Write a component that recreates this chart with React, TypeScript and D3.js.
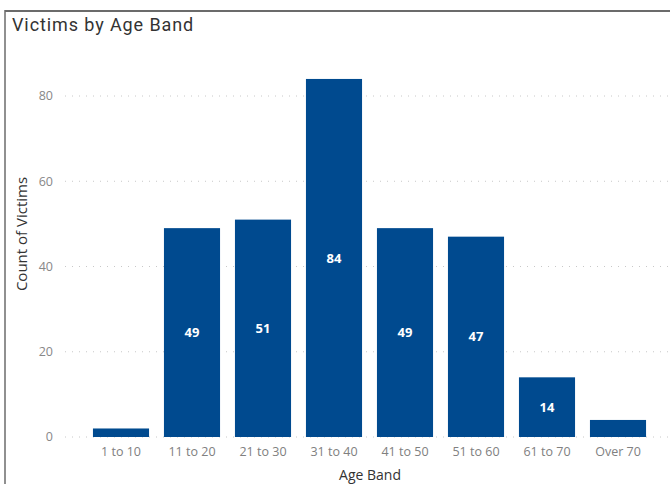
import React from "react";
import * as d3 from "d3";

const categories = ["1 to 10", "11 to 20", "21 to 30", "31 to 40", "41 to 50", "51 to 60", "61 to 70", "Over 70"];
const values = [2, 49, 51, 84, 49, 47, 14, 4];
const yTicks = [0, 20, 40, 60, 80];

export default function App() {
  const W = 670, H = 484;
  const x = d3.scaleBand<string>().domain(categories).range([85.5, 653.5]).paddingInner(0.21).paddingOuter(0.105);
  const y = d3.scaleLinear().domain([0, 80]).range([437, 96]);
  const font = "'Segoe UI', 'Open Sans', 'Noto Sans', sans-serif";
  return (
    <svg width={W} height={H} style={{ position: "absolute", left: 0, top: 0 }}>
      <rect x={0} y={0} width={W} height={H} fill="#fff" />
      <line x1={5} y1={11} x2={W} y2={11} stroke="#6b6b6b" strokeWidth={2} />
      <line x1={5} y1={10} x2={5} y2={H} stroke="#6b6b6b" strokeWidth={1.5} />
      <text x={12} y={31} fontSize={18} letterSpacing={0.9} fill="#333" fontFamily="'DIN', 'Roboto', 'Noto Sans', sans-serif">Victims by Age Band</text>
      {yTicks.map((t) => (
        <g key={t}>
          <line x1={65} x2={W} y1={y(t)} y2={y(t)} stroke="#c8c8c8" strokeWidth={1} strokeDasharray="1,6" />
          <text x={53} y={y(t)} dy="0.35em" textAnchor="end" fontSize={12.5} fill="#888" fontFamily={font}>{t}</text>
        </g>
      ))}
      {categories.map((c, i) => {
        const v = values[i];
        const bx = x(c)!;
        const bw = x.bandwidth();
        const top = y(v);
        return (
          <g key={c}>
            <rect x={bx} y={top} width={bw} height={y(0) - top} fill="#004A8F" />
            {v >= 10 && (
              <text x={bx + bw / 2} y={(top + y(0)) / 2} dy="0.35em" textAnchor="middle" fontSize={13} fontWeight="bold" fill="#fff" fontFamily={font}>{v}</text>
            )}
            <text x={bx + bw / 2} y={452} dy="0.35em" textAnchor="middle" fontSize={12.5} fill="#808080" fontFamily={font}>{c}</text>
          </g>
        );
      })}
      <text x={370} y={475} dy="0.35em" textAnchor="middle" fontSize={14} fill="#333" fontFamily={font}>Age Band</text>
      <text transform={`translate(22,234) rotate(-90)`} dy="0.35em" textAnchor="middle" fontSize={15} fill="#333" fontFamily={font}>Count of Victims</text>
    </svg>
  );
}
